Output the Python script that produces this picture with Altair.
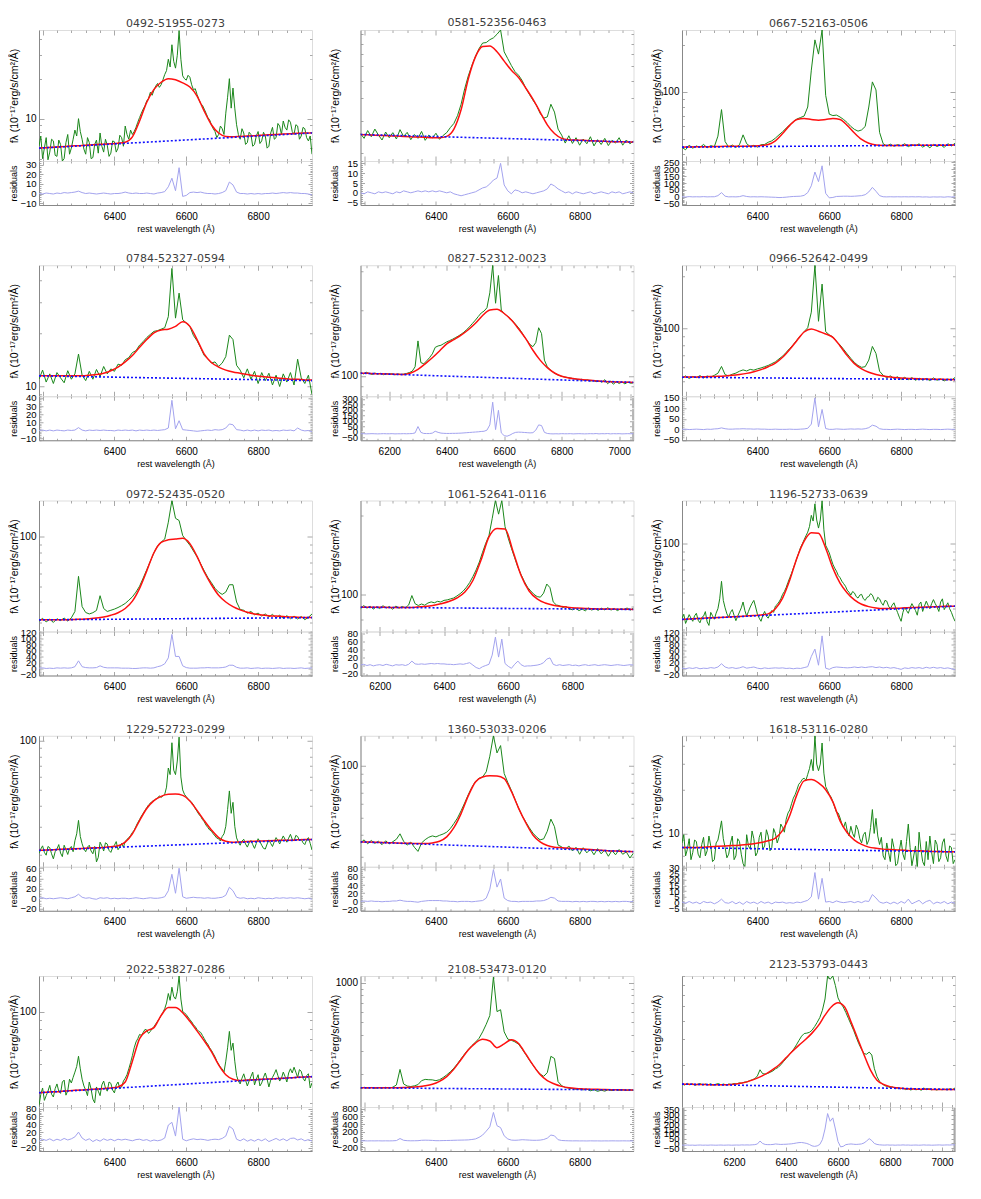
import sys
import altair as alt
import pandas as pd

# ---------------- sampling grids (wavelength, Angstrom) ----------------
GRID_A = list(range(6190, 6951, 10))
GRID_A5 = list(range(6190, 6951, 5))
GRID_B = list(range(6100, 7051, 10))
GRID_C = list(range(6140, 6991, 10))
GRID_D = list(range(6000, 7051, 10))
FGRID_A = list(range(6190, 6951, 20))
FGRID_B = list(range(6100, 7051, 25))
FGRID_C = list(range(6140, 6991, 25))
FGRID_D = list(range(6000, 7051, 25))

XTICKS_A = [6400, 6600, 6800]
XTICKS_B = [6200, 6400, 6600, 6800, 7000]
XTICKS_C = [6200, 6400, 6600, 6800]
XTICKS_D = [6200, 6400, 6600, 6800, 7000]

# ---------------- 0492-51955-0273 (spectrum on 5 A grid) ----------------
S_0492 = [6.2, 7.4, 5.0, 6.0, 7.2, 4.9, 5.6, 7.0, 6.8, 5.3,
          5.2, 6.9, 6.4, 4.8, 5.0, 6.6, 7.6, 5.4, 6.0, 7.0,
          8.2, 7.4, 10.0, 8.0, 7.0, 5.9, 5.4, 7.2, 6.6, 5.0,
          5.1, 6.4, 6.9, 5.5, 7.8, 6.2, 5.6, 7.0, 6.3, 5.2,
          5.5, 6.8, 6.7, 5.6, 6.0, 7.5, 7.2, 6.2, 8.8, 7.6,
          7.0, 8.2, 7.6, 8.0, 8.6, 9.4, 10.2, 11.0, 11.8, 12.5,
          13.6, 14.2, 15.8, 15.0, 16.4, 17.6, 18.4, 17.2, 18.0, 19.6,
          21.5, 23.0, 28.0, 24.5, 36.0, 27.0, 24.0, 30.0, 46.0, 28.0,
          21.0, 20.0, 19.5, 21.2, 20.5, 18.0, 16.5, 16.8, 15.2, 14.0,
          13.0, 12.6, 11.8, 11.0, 10.2, 9.8, 9.0, 8.4, 8.0, 7.2,
          7.6, 8.8, 8.4, 7.6, 11.0, 14.5, 20.0, 12.0, 17.0, 12.0,
          9.0, 7.6, 7.0, 8.4, 7.8, 6.4, 6.6, 7.9, 7.6, 6.2,
          6.4, 7.4, 8.0, 6.5, 6.8, 7.9, 7.4, 6.0, 6.2, 7.8,
          8.6, 7.0, 7.2, 9.2, 8.8, 7.6, 9.6, 8.6, 8.2, 9.8,
          9.4, 8.0, 7.6, 9.0, 8.8, 7.0, 7.4, 8.6, 8.4, 7.2,
          6.8, 7.4, 5.4]
F_0492 = [6.0, 6.05, 6.1, 6.14, 6.19, 6.24, 6.28, 6.33, 6.38, 6.43,
          6.47, 6.53, 6.65, 7.3, 9.6, 13.3, 16.6, 18.8, 20.0, 19.6,
          18.6, 17.3, 14.8, 11.4, 9.0, 7.8, 7.35, 7.3, 7.35, 7.4,
          7.45, 7.5, 7.55, 7.6, 7.65, 7.7, 7.75, 7.8, 7.8]
R_0492 = [0, -0.5, 0.5, 0, -0.5, 0.5, 0, 1, 0.5, 1,
          1.5, 2.5, 1, 0, 0.5, 0, -0.5, 0, 0.5, 0,
          -0.5, 0, 0, 0.5, 1.5, 0.5, 0, 0.5, 0, 0,
          0.5, 0, -0.5, 0.5, 1, 2, 7, 16, 3, 27,
          -3, -2, 1, 1.5, 1, 1.5, 0.5, 0, 0, -0.5,
          0, 1, 3, 12, 9, 1.5, 0, 0, -0.5, 0,
          -0.5, 0, -0.5, 0, 0, 0.5, 0, 0.5, 1, 0.5,
          1, 0.5, 0.5, 0, 0, -0.5, -1.5]

# ---------------- 0581-52356-0463 ----------------
S_0581 = [25.5, 24.0, 26.5, 24.5, 27.0, 25.0, 23.5, 26.0, 24.2, 25.8,
          23.8, 26.8, 24.6, 25.9, 23.6, 25.2, 24.0, 26.2, 23.4, 25.0,
          24.1, 25.6, 23.7, 24.9, 25.8, 27.5, 29.0, 32.0, 37.0, 45.0,
          53.0, 60.5, 68.0, 75.0, 80.5, 81.0, 84.0, 86.0, 90.0, 95.0,
          72.0, 66.0, 60.5, 56.0, 53.5, 50.0, 45.5, 42.0, 39.0, 36.5,
          33.0, 31.0, 31.5, 37.0, 33.5, 27.0, 25.0, 22.6, 24.8, 22.5,
          24.2, 22.0, 23.8, 22.4, 24.5, 21.8, 23.6, 22.2, 24.0, 21.9,
          23.4, 22.6, 24.2, 22.0, 23.5, 22.4, 23.2]
F_0581 = [25.2, 25.1, 25.0, 24.9, 24.8, 24.7, 24.6, 24.5, 24.4, 24.3,
          24.2, 24.2, 24.6, 27.0, 34.5, 51.0, 67.5, 77.0, 77.5, 72.0,
          64.0, 57.0, 52.0, 45.5, 39.5, 33.5, 28.5, 25.5, 24.0, 23.6,
          23.5, 23.4, 23.3, 23.2, 23.1, 23.0, 23.0, 22.9, 22.9]
R_0581 = [0, -0.5, 0.5, 0, -0.5, 0.5, 0, 0.5, 0, -0.5,
          0.5, 0, 1, 0.5, 0, 0.5, 1, 0.5, 1, 0.5,
          1, 0.5, 1, 0.5, 0, 0.5, -0.5, -1, -1.5, -1,
          -0.5, 0, 0.5, 1.5, 2.5, 3, 4.5, 6.5, 7.5, 15,
          4, 1, -0.5, 1.5, 1, 0, 0.5, 0, -0.5, 0,
          0.5, 1, 2, 4.5, 3.5, 2, 1, 0, 0.5, -0.5,
          0.5, 0, -0.5, 0, 0.5, -0.5, 0, 0.5, 0, -0.5,
          0.5, 0, 0.5, -0.5, 0, 0.5, 0]

# ---------------- 0667-52163-0506 ----------------
S_0667 = [44.0, 42.5, 45.5, 43.5, 45.0, 44.0, 46.0, 43.8, 45.2, 44.5,
          52.0, 77.0, 48.0, 44.2, 45.6, 44.0, 45.8, 53.0, 46.5, 44.6,
          45.4, 44.2, 45.8, 46.0, 47.5, 48.5, 50.5, 53.0, 55.5, 58.5,
          61.5, 64.5, 67.0, 68.5, 70.0, 80.0, 138.0, 216.0, 175.0, 250.0,
          95.0, 72.0, 70.5, 71.0, 69.0, 66.5, 63.5, 60.0, 57.5, 56.0,
          57.0, 60.0, 80.0, 116.0, 103.0, 55.0, 46.5, 45.0, 46.2, 44.8,
          45.9, 45.0, 46.5, 44.5, 45.8, 45.2, 46.4, 44.2, 45.6, 43.8,
          46.0, 44.6, 45.8, 44.0, 46.5, 45.0, 46.8]
F_0667 = [44.2, 44.3, 44.4, 44.5, 44.5, 44.6, 44.7, 44.7, 44.8, 44.8,
          44.9, 45.2, 46.0, 48.5, 54.0, 61.0, 66.5, 67.5, 66.5, 65.8,
          66.5, 67.5, 66.5, 61.0, 54.5, 49.5, 46.8, 45.6, 45.3, 45.3,
          45.3, 45.4, 45.4, 45.4, 45.5, 45.5, 45.5, 45.5, 45.6]
R_0667 = [0, -2, 1, -1, 0, -1, 1, -1, 0, 0,
          8, 30, 4, -1, 0, -1, 1, 8, 2, -1,
          0, -1, 0, -1, -2, -3, -4, -6, -5, -3,
          0, 2, 3, 4, 10, 30, 80, 180, 110, 225,
          25, -8, -5, 2, 3, 4, 4, 3, 4, 6,
          8, 15, 35, 68, 40, 8, 0, -1, 0, -1,
          0, -1, 0, -1, 0, -1, 0, -2, -1, -3,
          -1, -2, -1, -3, 0, -2, 0]

# ---------------- 0784-52327-0594 ----------------
S_0784 = [11.0, 12.4, 10.6, 11.8, 10.4, 12.0, 11.2, 10.5, 12.3, 11.0,
          11.8, 15.3, 11.6, 10.8, 12.2, 11.0, 12.5, 11.4, 13.0, 11.8,
          12.6, 12.2, 13.4, 13.2, 14.2, 14.6, 15.6, 16.0, 17.2, 18.0,
          19.0, 19.8, 20.6, 20.8, 21.2, 21.6, 25.0, 47.0, 24.5, 34.0,
          24.0, 23.0, 22.0, 19.5, 18.2, 16.6, 15.0, 14.4, 13.6, 13.8,
          13.0, 13.6, 14.8, 19.6, 18.5, 13.2, 12.4, 11.2, 12.6, 11.0,
          12.2, 10.4, 12.0, 10.8, 11.9, 10.2, 11.6, 10.0, 11.8, 10.6,
          12.0, 10.2, 14.3, 11.2, 10.4, 11.6, 9.0]
F_0784 = [11.5, 11.5, 11.5, 11.5, 11.5, 11.5, 11.5, 11.6, 11.7, 11.9,
          12.3, 12.9, 13.8, 15.0, 16.7, 18.5, 20.2, 21.0, 21.2, 22.0,
          23.4, 22.0, 18.5, 15.3, 13.7, 12.9, 12.4, 12.1, 11.9, 11.7,
          11.5, 11.4, 11.3, 11.2, 11.1, 11.0, 11.0, 10.9, 10.9]
R_0784 = [0, 0.5, -0.5, 0.5, -0.5, 0.5, 0, -0.5, 0.5, 0,
          0.5, 3.5, 0.5, -0.5, 0.5, 0, 0.5, 0, 0.5, 0,
          0, -0.5, 0.5, 0, 0.5, 0, 0.5, -0.5, 0.5, 0,
          0.5, 0, 0.5, 0, 0.5, 1, 3, 37, 2, 12,
          1, 0.5, 0, -0.5, -1, -0.5, 0, 0.5, 0, 1,
          0.5, 1, 3, 8, 7, 1, 0.5, -0.5, 0.5, -0.5,
          0.5, -0.5, 0.5, 0, 0.5, -0.5, 0, -0.5, 0.5, 0,
          0.5, -0.5, 3, 0.5, -0.5, 0, -1.5]

# ---------------- 0827-52312-0023 (grid B) ----------------
S_0827 = [103.5, 102.0, 103.8, 102.5, 101.5, 103.0, 101.8, 102.6, 101.2, 102.4,
          101.6, 102.2, 101.0, 102.0, 101.4, 101.8, 102.5, 103.5, 105.0, 110.0,
          144.5, 115.0, 113.5, 117.0, 121.0, 126.0, 135.0, 137.0, 138.0, 140.5,
          143.0, 145.0, 147.0, 149.5, 152.0, 155.0, 158.5, 163.0, 168.0, 174.0,
          180.0, 187.0, 194.0, 198.0, 205.0, 240.0, 321.0, 215.0, 288.0, 200.0,
          193.0, 188.0, 183.5, 178.0, 172.0, 166.0, 159.0, 151.0, 145.0, 139.0,
          136.0, 142.0, 166.0, 156.0, 118.0, 110.0, 106.5, 104.0, 102.0, 100.5,
          99.5, 98.8, 98.2, 97.8, 97.0, 96.6, 95.8, 96.4, 95.2, 95.8,
          94.6, 95.2, 94.0, 94.8, 93.4, 96.0, 92.0, 94.5, 91.5, 94.0,
          92.2, 93.8, 91.8, 93.6, 92.4, 93.0]
F_0827 = [102.8, 102.6, 102.3, 102.1, 101.8, 101.6, 101.5, 103.0, 107.0, 113.5,
          121.0, 130.0, 140.0, 146.5, 153.5, 162.5, 174.0, 189.0, 200.0, 202.0,
          193.0, 180.0, 164.0, 148.0, 131.0, 118.0, 109.0, 103.0, 99.5, 97.8,
          96.8, 96.0, 95.3, 94.7, 94.2, 93.8, 93.6, 93.4, 93.3]
R_0827 = [-18, -17, -19, -18, -17, -18, -19, -18, -17, -18,
          -18, -17, -19, -18, -18, -17, -18, -17, -16, -10,
          48, -5, -15, -16, -16, -12, 5, -5, -12, -14,
          -15, -15, -14, -14, -13, -12, -10, -8, -6, -4,
          -2, 0, 3, 5, 15, 63, 270, 20, 196, -10,
          -35, -40, -30, -15, -5, -3, -4, -6, -8, -10,
          -8, 15, 63, 57, -5, -15, -18, -19, -18, -19,
          -17, -18, -18, -17, -19, -18, -17, -18, -19, -18,
          -17, -18, -16, -19, -17, -18, -16, -19, -17, -18,
          -17, -19, -18, -17, -18, -17]

# ---------------- 0966-52642-0499 ----------------
S_0966 = [52.0, 53.6, 51.8, 53.2, 52.4, 53.8, 52.2, 53.5, 52.8, 54.0,
          55.5, 60.7, 54.5, 53.6, 54.8, 55.6, 57.0, 58.0, 57.2, 58.4,
          57.8, 58.8, 59.5, 60.5, 61.5, 63.0, 64.5, 67.0, 69.5, 73.0,
          77.0, 81.0, 86.0, 91.0, 96.0, 101.0, 124.0, 230.0, 110.0, 179.5,
          96.0, 92.0, 89.5, 84.5, 80.5, 76.0, 71.5, 67.5, 64.0, 61.5,
          60.0, 60.5, 66.0, 79.0, 72.0, 57.0, 54.0, 52.4, 53.6, 51.8,
          53.0, 51.2, 52.6, 51.0, 52.4, 50.6, 52.0, 50.8, 51.8, 50.4,
          52.2, 50.6, 51.6, 50.2, 51.4, 50.6, 52.5]
F_0966 = [52.7, 52.8, 52.9, 53.0, 53.1, 53.3, 53.6, 54.0, 54.6, 55.4,
          56.6, 58.2, 60.5, 63.5, 68.5, 76.0, 85.5, 95.5, 99.5, 96.5,
          93.0, 89.0, 79.5, 70.0, 63.0, 58.8, 56.2, 54.6, 53.5, 52.8,
          52.3, 52.0, 51.8, 51.6, 51.4, 51.3, 51.2, 51.1, 51.0]
R_0966 = [0, 1, -1, 0, 1, 0, -1, 1, 0, 2,
          3, 7, 3, 1, 1, 2, 2, 3, 2, 2,
          1, 2, 1, 1, 0, 0, 1, 0, 0, 0,
          1, 0, 0, 1, 2, 5, 25, 150, 12, 95,
          4, 0, 0, 2, 1, 0, 1, 2, 1, 2,
          1, 3, 8, 20, 15, 3, 0, 0, -1, 0,
          1, 0, -1, 0, 0, -1, 0, 1, 0, -1,
          0, 0, -1, 0, 1, 0, 0]

# ---------------- 0972-52435-0520 ----------------
S_0972 = [30.5, 31.8, 30.2, 31.4, 30.0, 31.6, 30.8, 31.9, 30.6, 32.0,
          35.0, 57.4, 37.5, 34.5, 33.8, 34.4, 35.5, 43.7, 36.5, 35.0,
          35.6, 36.2, 37.0, 38.0, 39.2, 41.0, 43.0, 46.0, 50.0, 56.0,
          63.0, 71.0, 80.0, 88.0, 93.0, 97.0, 123.0, 167.0, 130.0, 126.0,
          102.0, 95.0, 89.0, 82.0, 75.5, 68.5, 62.0, 56.5, 52.5, 48.5,
          46.0, 44.5, 46.0, 51.0, 51.0, 40.0, 36.0, 35.6, 34.2, 35.0,
          33.4, 34.2, 32.8, 33.8, 32.4, 33.6, 32.0, 33.2, 31.8, 33.0,
          31.6, 32.8, 31.5, 32.6, 31.2, 32.2, 33.8]
F_0972 = [31.1, 31.1, 31.1, 31.2, 31.2, 31.3, 31.4, 31.6, 31.9, 32.4,
          33.2, 34.4, 36.5, 40.5, 48.5, 62.0, 80.0, 92.5, 96.0, 97.0,
          98.0, 91.0, 76.0, 61.0, 51.0, 44.0, 40.0, 37.5, 35.8, 34.6,
          33.8, 33.3, 33.0, 32.8, 32.6, 32.4, 32.3, 32.2, 32.1]
R_0972 = [0, 1, -1, 0, -1, 1, 0, 1, 0, 1,
          5, 25, 5, 2, 1, 1, 2, 8, 3, 1,
          1, 1, 1, 0, 0, 0, -1, -1, 0, 1,
          1, 0, 1, 5, 8, 15, 35, 115, 40, 40,
          8, 2, 0, 0, 0, 1, 1, 2, 1, 1,
          1, 2, 4, 10, 10, 3, 0, 0, 1, -1,
          0, 1, -1, 0, 0, -1, 0, 1, -1, 0,
          0, -1, 0, 1, -1, 0, 1]

# ---------------- 1061-52641-0116 (grid C) ----------------
S_1061 = [88.0, 90.5, 88.5, 90.0, 87.8, 89.6, 88.2, 90.4, 88.6, 89.8,
          87.6, 90.2, 88.4, 89.8, 88.8, 91.0, 98.9, 92.0, 90.6, 91.8,
          90.8, 92.6, 93.5, 92.8, 94.0, 93.4, 94.8, 95.2, 96.0, 96.8,
          98.5, 100.5, 103.0, 106.5, 111.0, 117.0, 124.0, 133.0, 145.0, 157.0,
          168.0, 195.0, 229.0, 203.0, 229.0, 182.0, 164.0, 150.0, 138.0, 127.0,
          119.0, 112.0, 106.5, 103.0, 100.0, 98.0, 97.5, 101.0, 109.5, 106.0,
          93.5, 91.0, 90.4, 89.0, 89.8, 88.0, 87.2, 88.4, 86.6, 87.8,
          86.4, 88.6, 87.0, 88.2, 86.8, 88.4, 87.2, 88.8, 87.0, 88.2,
          86.6, 88.0, 87.4, 88.6, 87.0, 88.4]
F_1061 = [89.2, 89.2, 89.1, 89.1, 89.0, 89.0, 89.0, 89.3, 89.8, 90.6,
          92.0, 93.8, 96.8, 102.0, 113.0, 135.0, 166.0, 179.0, 178.0, 146.0,
          118.0, 103.0, 96.0, 92.6, 90.8, 89.8, 89.0, 88.6, 88.3, 88.0,
          87.9, 87.8, 87.7, 87.6, 87.5]
R_1061 = [0, 2, -1, 1, -2, 0, 1, -1, 2, 0,
          -2, 1, 0, 1, -1, 2, 10, 3, 2, 3,
          2, 3, 4, 3, 4, 3, 3, 2, 2, 1,
          2, 3, 2, 4, 6, 0, -6, -9, -4, -1,
          2, 25, 70, 20, 65, 4, -3, -8, 2, 10,
          1, -3, -2, -2, -1, 0, 2, 6, 15, 18,
          2, -1, 1, -1, 0, 1, -1, 0, -2, 0,
          1, -1, 0, 1, -1, 0, 1, 0, -1, 0,
          1, 0, -1, 0, 1, 0]

# ---------------- 1196-52733-0639 (spectrum on 5 A grid) ----------------
S_1196 = [35.0, 37.0, 32.5, 34.6, 36.8, 35.0, 33.5, 36.2, 37.5, 34.0,
          32.8, 35.4, 36.0, 38.4, 33.2, 31.6, 38.0, 36.2, 34.5, 37.6,
          40.0, 46.0, 58.9, 45.0, 40.5, 37.2, 35.5, 38.0, 39.5, 36.4,
          33.8, 36.0, 38.2, 40.5, 44.0, 39.0, 36.0, 38.5, 41.0, 43.2,
          45.0, 41.0, 37.0, 35.0, 33.5, 36.4, 38.5, 36.0, 35.0, 37.2,
          39.0, 38.0, 41.5, 42.5, 44.0, 46.0, 49.0, 51.0, 54.0, 58.0,
          62.0, 66.0, 71.0, 76.0, 82.0, 88.0, 95.0, 100.0, 106.0, 112.0,
          118.0, 128.0, 149.6, 138.0, 176.0, 140.0, 125.0, 140.0, 184.0, 122.0,
          98.0, 93.0, 88.0, 81.0, 75.0, 71.0, 68.0, 64.0, 62.0, 59.0,
          57.0, 55.0, 52.0, 50.5, 48.5, 51.0, 50.0, 47.5, 46.5, 48.5,
          49.0, 46.0, 45.0, 47.0, 47.5, 49.5, 48.5, 45.5, 44.0, 47.0,
          46.0, 43.5, 42.0, 45.0, 44.5, 41.5, 40.0, 42.0, 43.5, 40.5,
          38.0, 35.5, 33.5, 38.0, 41.0, 39.0, 37.5, 40.5, 43.0, 41.0,
          39.0, 36.5, 42.5, 44.0, 38.5, 41.5, 44.5, 42.0, 40.0, 43.0,
          45.5, 43.0, 41.0, 38.5, 44.0, 46.0, 39.5, 41.5, 43.5, 40.0,
          38.0, 35.5, 33.5]
F_1196 = [34.4, 34.6, 34.8, 35.0, 35.2, 35.3, 35.5, 35.7, 35.9, 36.1,
          36.3, 36.6, 37.2, 40.0, 46.5, 60.0, 82.0, 104.0, 117.0, 116.0,
          94.0, 71.0, 57.5, 50.0, 45.3, 42.6, 41.2, 40.4, 40.1, 40.2,
          40.3, 40.5, 40.7, 40.8, 41.0, 41.1, 41.3, 41.4, 41.5]
R_1196 = [0, -2, 1, -1, 2, -2, 0, -1, 2, 0,
          4, 15, 4, 0, 2, -1, 1, 5, 0, 2,
          4, 0, -2, 1, -1, 0, 1, 0, 1, -1,
          0, -2, 0, -1, 2, 5, 40, 65, 10, 110,
          0, -4, 2, 4, 3, 2, 1, 2, 4, 2,
          4, 2, 4, 5, 2, 4, 1, 3, 0, 2,
          -1, -4, 1, -1, 2, 0, 2, -1, 3, 0,
          3, 0, 2, -1, 1, -2, -5]

# ---------------- 1229-52723-0299 (spectrum on 5 A grid) ----------------
S_1229 = [20.5, 21.8, 22.8, 20.8, 20.0, 22.6, 22.2, 20.4, 19.0, 21.0,
          21.8, 23.2, 20.6, 19.6, 23.0, 21.6, 20.2, 22.0, 22.6, 21.0,
          24.5, 27.0, 32.6, 26.0, 23.5, 21.8, 21.0, 22.4, 23.0, 21.2,
          20.4, 22.6, 18.2, 19.4, 24.0, 22.8, 21.2, 23.8, 23.4, 21.4,
          20.8, 22.2, 23.0, 24.2, 21.6, 22.4, 23.6, 22.4, 24.2, 25.0,
          25.5, 26.4, 27.5, 28.4, 30.0, 31.6, 33.0, 34.6, 36.0, 37.5,
          39.0, 40.5, 41.5, 42.6, 43.0, 44.0, 44.5, 46.0, 45.0, 46.0,
          47.0, 52.0, 68.0, 62.0, 97.0, 66.0, 62.0, 75.0, 105.0, 60.0,
          50.0, 47.0, 45.5, 44.0, 43.0, 42.0, 40.5, 38.5, 37.0, 35.5,
          34.5, 33.0, 32.0, 30.5, 29.5, 28.5, 28.0, 27.0, 26.2, 25.4,
          25.2, 24.4, 26.0, 27.0, 30.0, 38.0, 49.3, 36.0, 42.0, 30.0,
          25.5, 24.0, 23.0, 24.4, 25.0, 23.4, 22.4, 23.8, 24.6, 23.2,
          22.0, 23.6, 25.2, 24.2, 23.0, 22.0, 21.8, 23.4, 24.8, 23.6,
          22.6, 24.2, 25.6, 24.6, 23.4, 24.8, 26.2, 25.0, 24.0, 25.4,
          26.8, 25.0, 24.4, 26.4, 26.0, 24.6, 25.0, 23.8, 23.2, 24.8,
          25.6, 23.6, 21.5]
F_1229 = [21.4, 21.5, 21.6, 21.7, 21.8, 21.9, 22.0, 22.1, 22.2, 22.3,
          22.5, 22.8, 24.0, 27.0, 32.5, 38.5, 43.0, 45.7, 47.0, 47.2,
          46.3, 42.8, 37.5, 32.5, 28.5, 25.6, 24.3, 24.0, 24.1, 24.2,
          24.3, 24.4, 24.5, 24.6, 24.7, 24.7, 24.8, 24.9, 24.9]
R_1229 = [0, 1, -1, 0, -1, 0, 1, 0, -1, 1,
          3, 8, 2, 0, 1, -1, -2, 1, 0, 1,
          -1, 0, -1, 0, 0, -1, 0, 1, 0, -1,
          0, 1, 0, 0, 1, 3, 15, 48, 10, 60,
          3, 0, 1, 2, 1, 1, 0, 1, 0, 0,
          1, 2, 6, 22, 15, 2, 0, 1, -1, 0,
          -1, 1, 0, -1, 0, -1, 1, 0, 1, 0,
          1, 0, 1, 0, -1, 0, -2]

# ---------------- 1360-53033-0206 ----------------
S_1360 = [36.0, 37.5, 35.6, 37.2, 35.8, 36.8, 35.2, 37.0, 35.6, 36.6,
          37.8, 40.6, 36.8, 35.0, 36.4, 34.0, 32.2, 36.0, 37.6, 38.8,
          39.5, 39.0, 39.8, 40.5, 41.5, 43.5, 46.5, 50.0, 55.0, 61.0,
          68.0, 75.0, 81.0, 84.5, 86.0, 92.0, 113.0, 148.0, 118.0, 130.0,
          90.0, 80.0, 72.0, 64.0, 57.0, 51.5, 47.5, 44.0, 41.0, 39.0,
          37.5, 38.0, 42.0, 49.3, 44.6, 35.0, 34.2, 33.0, 34.6, 32.4,
          34.0, 31.0, 33.8, 31.6, 33.2, 30.8, 33.4, 31.2, 32.8, 30.2,
          32.6, 30.8, 33.0, 31.0, 32.0, 29.5, 31.5]
F_1360 = [36.5, 36.4, 36.3, 36.2, 36.1, 36.0, 35.9, 35.8, 35.7, 35.7,
          36.0, 36.8, 39.0, 44.0, 53.0, 67.0, 80.5, 86.0, 87.2, 87.0,
          84.0, 71.0, 57.0, 47.0, 40.0, 36.5, 34.8, 34.0, 33.8, 33.6,
          33.4, 33.2, 33.0, 32.8, 32.6, 32.4, 32.3, 32.2, 32.1]
R_1360 = [0, 1, 0, 1, 0, 0, -1, 0, 0, 1,
          1, 3, 1, 0, 0, -1, -2, 0, 1, 2,
          2, 2, 2, 1, 1, 0, 0, -1, 0, 0,
          0, -1, 0, 1, 2, 8, 30, 78, 35, 55,
          8, 2, 0, 0, -1, 0, 0, 0, 0, 1,
          1, 2, 5, 10, 8, 1, 0, 0, 0, -1,
          0, -1, 0, -1, 0, 0, -1, 0, -1, 0,
          -1, 0, -1, 0, 0, -1, 0]

# ---------------- 1618-53116-0280 (spectrum on 5 A grid) ----------------
S_1618 = [8.6, 9.8, 7.0, 7.8, 9.2, 6.6, 7.4, 9.0, 8.8, 7.2,
          6.8, 8.4, 9.4, 7.0, 7.6, 9.6, 8.2, 6.4, 6.6, 8.6,
          9.0, 10.4, 12.2, 9.2, 8.0, 6.8, 7.2, 8.6, 9.6, 6.6,
          7.0, 9.2, 8.8, 7.2, 6.2, 5.9, 9.8, 8.2, 7.8, 10.4,
          9.2, 7.0, 7.4, 9.4, 10.2, 7.8, 8.2, 10.6, 9.6, 7.6,
          8.0, 10.8, 10.0, 8.6, 9.4, 11.6, 11.0, 10.2, 12.5, 13.8,
          14.5, 16.0, 17.5, 18.5, 20.0, 21.8, 22.5, 23.6, 24.0, 23.2,
          25.5, 28.0, 32.3, 27.0, 47.0, 30.0, 27.0, 30.0, 41.9, 26.0,
          21.0, 19.8, 18.5, 17.8, 16.5, 15.2, 14.0, 13.8, 12.8, 11.6,
          11.0, 12.0, 10.4, 9.6, 11.2, 10.0, 9.4, 11.4, 10.6, 9.2,
          8.6, 9.8, 10.2, 8.4, 9.0, 11.0, 14.6, 10.0, 12.7, 9.6,
          8.4, 9.4, 7.0, 6.6, 8.6, 7.4, 6.4, 9.2, 8.0, 6.0,
          6.2, 7.6, 9.0, 7.2, 6.6, 8.8, 11.6, 8.0, 6.0, 7.0,
          8.2, 5.7, 10.2, 7.8, 6.4, 6.0, 8.8, 6.6, 9.6, 7.4,
          6.2, 9.0, 8.4, 6.4, 6.8, 8.6, 9.2, 7.0, 6.4, 8.2,
          8.0, 6.2, 6.6]
F_1618 = [8.0, 8.0, 8.0, 8.05, 8.1, 8.15, 8.2, 8.25, 8.3, 8.4,
          8.5, 8.65, 8.9, 9.3, 10.5, 13.3, 18.5, 23.0, 23.5, 22.3,
          20.0, 16.5, 12.2, 10.1, 9.0, 8.4, 8.05, 7.9, 7.8, 7.75,
          7.7, 7.65, 7.6, 7.6, 7.55, 7.5, 7.5, 7.48, 7.47]
R_1618 = [0.5, -0.5, 1, -0.5, 0.5, -1, 1, 0, 0.5, -1,
          0.5, 3, 0, -0.5, 1, -1, 0.5, -1.5, 1, -0.5,
          0.5, -1, 1, -0.5, 0.5, -1, 0.5, 0, 0.5, -0.5,
          0, -0.5, 0.5, 0, 1, 2, 5, 26, 3, 21,
          0.5, 1, 0, 1.5, 0.5, 0, 0.5, 1, 0, 1,
          0, 1.5, 1, 7, 4, 0.5, -0.5, 0.5, -1, 0.5,
          -1, 1, -0.5, 3, -1, 0.5, 2, -1, 1, 2,
          -1, 0.5, -0.5, 1, -1, 0.5, -0.5]

# ---------------- 2022-53827-0286 (spectrum on 5 A grid) ----------------
S_2022 = [29.0, 33.5, 36.5, 31.0, 33.0, 35.0, 37.8, 33.6, 32.4, 36.2,
          38.5, 35.0, 34.0, 39.5, 40.5, 33.2, 35.2, 41.0, 39.0, 42.0,
          45.0, 48.5, 55.5, 47.0, 41.0, 37.5, 35.5, 33.0, 39.5, 36.0,
          31.5, 30.0, 37.0, 35.0, 33.0, 38.0, 40.0, 36.5, 35.0, 39.5,
          38.8, 35.5, 34.2, 38.0, 39.5, 36.2, 37.0, 40.0, 41.5, 43.5,
          47.0, 51.0, 56.0, 62.0, 67.0, 70.0, 74.0, 73.0, 76.0, 79.0,
          78.5, 75.0, 77.0, 80.0, 82.0, 85.0, 88.0, 91.0, 95.0, 99.0,
          104.0, 112.0, 127.0, 116.0, 138.0, 122.0, 118.0, 130.0, 160.0, 118.0,
          100.0, 98.5, 96.0, 93.0, 90.0, 87.5, 84.0, 82.0, 79.0, 77.0,
          76.0, 73.0, 70.0, 67.0, 65.0, 62.0, 60.0, 57.5, 55.0, 52.0,
          50.0, 48.0, 47.0, 45.0, 52.0, 62.0, 77.0, 60.0, 66.0, 52.0,
          43.0, 40.0, 38.5, 41.5, 44.0, 40.5, 37.5, 40.0, 42.5, 45.0,
          38.0, 41.0, 43.5, 37.5, 39.0, 42.0, 44.5, 41.0, 37.0, 40.5,
          42.0, 44.0, 46.5, 43.0, 40.0, 41.5, 45.0, 42.5, 39.5, 44.5,
          47.0, 44.5, 48.0, 45.0, 42.0, 46.5, 45.5, 41.5, 40.0, 43.0,
          44.0, 36.5, 39.0]
F_2022 = [34.3, 34.5, 34.7, 34.9, 35.2, 35.4, 35.6, 35.8, 36.0, 36.2,
          36.5, 37.0, 39.5, 52.0, 70.0, 77.5, 81.0, 95.0, 105.5, 105.5,
          98.5, 88.0, 77.5, 68.0, 59.0, 49.5, 43.5, 41.0, 40.3, 40.5,
          40.7, 40.9, 41.1, 41.3, 41.5, 41.8, 42.0, 42.2, 42.4]
R_2022 = [-3, 2, -1, 3, -2, 2, -1, 4, 0, 3,
          8, 20, 5, -1, 3, -4, 1, -3, 3, -1,
          2, -2, 2, 0, 2, 0, -2, 1, 2, -1,
          1, -3, 0, -2, 0, 5, 38, 45, 10, 84,
          2, -2, 1, 3, 1, 2, 1, -1, 1, 2,
          1, 4, 10, 35, 28, 2, -2, 3, -3, 1,
          -3, 2, -2, 3, -4, 0, 4, -1, 3, -2,
          4, 5, 0, 3, -2, 1, -3]

# ---------------- 2108-53473-0120 ----------------
S_2108 = [155.0, 158.5, 156.0, 158.0, 155.5, 157.5, 156.2, 158.2, 156.0, 158.8,
          165.0, 217.0, 168.0, 162.0, 160.5, 162.5, 166.0, 178.0, 182.0, 181.0,
          180.5, 178.0, 181.0, 188.0, 197.0, 208.0, 222.0, 240.0, 262.0, 285.0,
          308.0, 330.0, 350.0, 375.0, 420.0, 480.0, 560.0, 1100.0, 600.0, 620.0,
          420.0, 370.0, 362.0, 352.0, 338.0, 310.0, 282.0, 256.0, 234.0, 215.0,
          200.0, 192.0, 205.0, 273.0, 263.0, 175.0, 163.0, 158.0, 156.0, 154.5,
          153.0, 154.0, 151.5, 153.5, 149.0, 152.0, 147.5, 150.5, 148.0, 151.8,
          149.5, 152.0, 150.0, 151.6, 149.8, 151.4, 150.2]
F_2108 = [157.0, 157.0, 157.0, 157.0, 157.0, 157.2, 157.5, 158.5, 160.0, 162.5,
          167.0, 176.0, 191.0, 218.0, 258.0, 305.0, 345.0, 368.0, 358.0, 318.0,
          340.0, 365.0, 342.0, 285.0, 235.0, 198.0, 178.0, 168.0, 161.0, 157.0,
          155.0, 154.0, 153.3, 152.8, 152.4, 152.0, 151.6, 151.3, 151.0]
R_2108 = [-30, -28, -31, -29, -30, -28, -31, -29, -30, -28,
          -22, 30, -15, -25, -28, -27, -25, -15, -12, -14,
          -18, -25, -25, -22, -20, -18, -15, -12, -10, -8,
          -5, 5, 20, 60, 120, 220, 330, 700, 360, 310,
          100, 20, -10, -15, -10, 0, -5, -10, -15, -15,
          -10, 5, 40, 120, 100, 0, -20, -25, -28, -30,
          -29, -31, -30, -32, -29, -31, -30, -32, -30, -31,
          -29, -30, -31, -29, -30, -31, -30]

# ---------------- 2123-53793-0443 (grid D) ----------------
S_2123 = [150.0, 147.5, 151.5, 148.0, 150.5, 147.0, 149.5, 151.0, 147.5, 150.0,
          148.0, 150.5, 147.0, 149.5, 151.0, 148.0, 150.0, 147.5, 150.0, 149.0,
          151.0, 150.0, 152.5, 152.0, 154.5, 155.0, 158.0, 160.0, 163.0, 170.0,
          187.0, 176.0, 175.0, 177.0, 180.0, 184.0, 190.0, 194.0, 202.0, 212.0,
          222.0, 233.0, 245.0, 258.0, 275.0, 295.0, 315.0, 328.0, 330.0, 334.0,
          345.0, 365.0, 390.0, 420.0, 470.0, 560.0, 800.0, 760.0, 800.0, 690.0,
          570.0, 525.0, 495.0, 455.0, 415.0, 378.0, 345.0, 310.0, 280.0, 258.0,
          240.0, 238.0, 246.0, 235.0, 190.0, 168.0, 156.0, 150.0, 146.0, 144.5,
          142.0, 143.5, 140.0, 141.5, 139.0, 141.0, 137.5, 140.0, 136.5, 139.5,
          137.0, 139.0, 136.0, 141.0, 137.5, 139.5, 137.0, 138.5, 136.5, 139.0,
          137.0, 138.5, 137.0, 139.5, 137.5, 141.0]
F_2123 = [149.7, 149.4, 149.1, 148.8, 148.5, 148.3, 148.2, 148.5, 149.5, 151.5,
          155.0, 160.5, 167.5, 176.0, 188.0, 203.0, 225.0, 249.0, 274.0, 299.0,
          330.0, 372.0, 436.0, 497.0, 528.0, 496.0, 393.0, 305.0, 236.0, 186.0,
          159.0, 149.0, 144.0, 141.5, 140.0, 139.0, 138.5, 138.2, 138.0, 137.9,
          137.8, 137.7, 137.7]
R_2123 = [-17, -18, -16, -18, -17, -19, -17, -16, -18, -17,
          -18, -16, -17, -18, -17, -16, -18, -17, -16, -18,
          -17, -16, -17, -15, -16, -15, -16, -14, -12, -5,
          25, 0, -10, -12, -12, -10, -5, -8, -10, -9,
          -8, -6, -4, 0, 5, 9, 10, 6, 0, -10,
          -25, -30, -25, -10, 40, 150, 310, 230, 265, 150,
          20, -35, -30, -12, -8, -5, -8, -10, -8, -5,
          5, 25, 50, 30, 0, -10, -14, -16, -17, -15,
          -17, -16, -18, -16, -17, -15, -17, -16, -18, -17,
          -16, -18, -17, -15, -17, -16, -18, -17, -16, -15,
          -17, -16, -15, -16, -14, -15]

GRIDS = {
    "A": (GRID_A, FGRID_A, (6190, 6950), XTICKS_A),
    "B": (GRID_B, FGRID_B, (6100, 7050), XTICKS_B),
    "C": (GRID_C, FGRID_C, (6140, 6990), XTICKS_C),
    "D": (GRID_D, FGRID_D, (6000, 7050), XTICKS_D),
}

PANELS = [
    dict(name="0492-51955-0273", g="A", fine=True, s=S_0492, f=F_0492, r=R_0492, cont=(6.0, 7.8),
         ydom=(4.8, 46.5), rdom=(-12, 34), rt=[-10, 0, 10, 20, 30], rm=2),
    dict(name="0581-52356-0463", g="A", s=S_0581, f=F_0581, r=R_0581, cont=(25.2, 22.9),
         ydom=(18, 95), rdom=(-6.2, 16.2), rt=[-5, 0, 5, 10, 15], rm=1),
    dict(name="0667-52163-0506", g="A", s=S_0667, f=F_0667, r=R_0667, cont=(44.2, 45.6),
         ydom=(36, 250), rdom=(-60, 260), rt=[-50, 0, 50, 100, 150, 200, 250], rm=10),
    dict(name="0784-52327-0594", g="A", s=S_0784, f=F_0784, r=R_0784, cont=(11.5, 10.8),
         ydom=(8.8, 49), rdom=(-12, 42), rt=[-10, 0, 10, 20, 30, 40], rm=2),
    dict(name="0827-52312-0023", g="B", s=S_0827, f=F_0827, r=R_0827, cont=(102.8, 93.3),
         ydom=(80.6, 321), rdom=(-77, 324), rt=[-50, 0, 50, 100, 150, 200, 250, 300], rm=10),
    dict(name="0966-52642-0499", g="A", s=S_0966, f=F_0966, r=R_0966, cont=(52.7, 51.0),
         ydom=(41, 230), rdom=(-52, 158), rt=[-50, 0, 50, 100, 150], rm=10),
    dict(name="0972-52435-0520", g="A", s=S_0972, f=F_0972, r=R_0972, cont=(31.1, 32.1),
         ydom=(26.4, 167), rdom=(-25, 125), rt=[-20, 0, 20, 40, 60, 80, 100, 120], rm=5),
    dict(name="1061-52641-0116", g="C", s=S_1061, f=F_1061, r=R_1061, cont=(89.2, 87.5),
         ydom=(72, 229), rdom=(-26, 84), rt=[-20, 0, 20, 40, 60, 80], rm=5),
    dict(name="1196-52733-0639", g="A", fine=True, s=S_1196, f=F_1196, r=R_1196, cont=(34.4, 41.5),
         ydom=(29, 184.5), rdom=(-25, 125), rt=[-20, 0, 20, 40, 60, 80, 100, 120], rm=5),
    dict(name="1229-52723-0299", g="A", fine=True, s=S_1229, f=F_1229, r=R_1229, cont=(21.4, 24.9),
         ydom=(17, 107), rdom=(-25, 63), rt=[-20, 0, 20, 40, 60], rm=5),
    dict(name="1360-53033-0206", g="A", s=S_1360, f=F_1360, r=R_1360, cont=(36.5, 32.1),
         ydom=(26.3, 148), rdom=(-23, 85), rt=[-20, 0, 20, 40, 60, 80], rm=5),
    dict(name="1618-53116-0280", g="A", fine=True, s=S_1618, f=F_1618, r=R_1618, cont=(8.0, 7.47),
         ydom=(5.9, 47), rdom=(-7, 31), rt=[-5, 0, 5, 10, 15, 20, 25, 30], rm=1),
    dict(name="2022-53827-0286", g="A", fine=True, s=S_2022, f=F_2022, r=R_2022, cont=(34.3, 42.4),
         ydom=(28.4, 160), rdom=(-28, 84), rt=[-20, 0, 20, 40, 60, 80], rm=5),
    dict(name="2108-53473-0120", g="A", s=S_2108, f=F_2108, r=R_2108, cont=(157.0, 151.0),
         ydom=(112, 1122), rdom=(-290, 840), rt=[-200, 0, 200, 400, 600, 800], rm=50),
    dict(name="2123-53793-0443", g="D", s=S_2123, f=F_2123, r=R_2123, cont=(149.7, 137.7),
         ydom=(105, 800), rdom=(-78, 378), rt=[-50, 0, 50, 100, 150, 200, 250, 300, 350], rm=10),
]

# ---------------- style ----------------
W, HM, HR = 273, 131, 44
FONT = "DejaVu Sans"
TXT = "#404040"
FRAME = "#a8a8a8"
GREEN = "#1b871b"
RED = "#ff1010"
BLUE = "#1010ff"
PURPLE = "#a3a3ee"
YTITLE = "f\u03bb (10\u207b\u00b9\u2077erg/s/cm\u00b2/\u00c5)"
MAJ, MIN = 5, 2.5

problems = []


def dash(length, test, major=MAJ, minor=MIN):
    return {"condition": {"test": test, "value": [major, length - 2 * major, major]},
            "value": [minor, length - 2 * minor, minor]}


def log_ticks(lo, hi):
    out = []
    for k in range(0, 5):
        for m in range(1, 10):
            v = m * 10 ** k
            if lo <= v <= hi:
                out.append(v)
    return out


def lin_ticks(lo, hi, step):
    out = []
    v = int(lo // step) * step
    while v <= hi:
        if v >= lo:
            out.append(v)
        v += step
    return out


def panel(p):
    grid, fgrid, xdom, xlab = GRIDS[p["g"]]
    sgrid = GRID_A5 if p.get("fine") else grid
    for key, g in (("s", sgrid), ("f", fgrid), ("r", grid)):
        if len(p[key]) != len(g):
            problems.append(f"{p['name']} {key}: {len(p[key])} vs {len(g)}")
    n = min(len(sgrid), len(p["s"]))
    spec = pd.DataFrame({"wl": sgrid[:n], "flux": p["s"][:n]})
    nf = min(len(fgrid), len(p["f"]))
    fit = pd.DataFrame({"wl": fgrid[:nf], "flux": p["f"][:nf]})
    cont = pd.DataFrame({"wl": list(xdom), "flux": list(p["cont"])})
    nr = min(len(grid), len(p["r"]))
    res = pd.DataFrame({"wl": grid[:nr], "res": p["r"][:nr]})

    xs = alt.Scale(domain=list(xdom), nice=False, zero=False)
    ys = alt.Scale(type="log", domain=list(p["ydom"]), nice=False)
    rs = alt.Scale(domain=list(p["rdom"]), nice=False, zero=False)

    xvals = lin_ticks(xdom[0], xdom[1], 40)
    xtest = "datum.value % 200 == 0"
    xlab_expr = "indexof(%s, datum.value) >= 0 ? datum.label : ''" % str(xlab)

    ax_xm = alt.Axis(values=xvals, labels=False, ticks=False, tickSize=0, domain=False,
                     title=None, grid=True, gridColor=FRAME, gridDash=dash(HM, xtest),
                     minExtent=0, maxExtent=0, labelPadding=0)
    yvals = log_ticks(*p["ydom"])
    ytest = "datum.value == 10 || datum.value == 100 || datum.value == 1000"
    ax_ym = alt.Axis(values=yvals, format="d",
                     labelExpr="(%s) ? datum.label : ''" % ytest, labelOverlap=False,
                     title=YTITLE, titleFontSize=10.5, titleFontWeight="normal",
                     grid=True, gridColor=FRAME, tickSize=0,
                     gridDash=dash(W, ytest), minExtent=20, maxExtent=20,
                     titlePadding=0, labelPadding=3)

    xm = alt.X("wl:Q", scale=xs, axis=ax_xm)
    ym = alt.Y("flux:Q", scale=ys, axis=ax_ym)

    l_spec = alt.Chart(spec).mark_line(color=GREEN, strokeWidth=1, clip=True).encode(x=xm, y=ym)
    l_fit = alt.Chart(fit).mark_line(color=RED, strokeWidth=1.5, interpolate="monotone",
                                     clip=True).encode(x=xm, y=ym)
    l_cont = alt.Chart(cont).mark_line(color=BLUE, strokeWidth=1.6, strokeDash=[2, 2],
                                       clip=True).encode(x=xm, y=ym)
    main = alt.layer(l_spec, l_fit, l_cont).properties(
        width=W, height=HM,
        title=alt.Title(p["name"], fontSize=11, font=FONT, color=TXT,
                        fontWeight="normal", offset=1))

    rvals = lin_ticks(p["rdom"][0], p["rdom"][1], p["rm"])
    rtest = "indexof(%s, datum.value) >= 0" % str(p["rt"])
    ax_xr = alt.Axis(values=xvals, format="d", labelExpr=xlab_expr, labelOverlap=False,
                     title="rest wavelength (\u00c5)", titleFontSize=9,
                     titleFontWeight="normal", tickSize=0,
                     grid=True, gridColor=FRAME, gridDash=dash(HR, xtest, 4, 2),
                     labelPadding=6, titlePadding=3)
    ax_yr = alt.Axis(values=rvals, format="d",
                     labelExpr="(%s) ? datum.label : ''" % rtest, labelOverlap=False,
                     labelFontSize=9.5,
                     title="residuals", titleFontSize=9, titleFontWeight="normal",
                     grid=True, gridColor=FRAME, tickSize=0,
                     gridDash=dash(W, rtest, 4, 2), minExtent=20, maxExtent=20,
                     titlePadding=1, labelPadding=3)
    resid = alt.Chart(res).mark_line(color=PURPLE, strokeWidth=1, clip=True).encode(
        x=alt.X("wl:Q", scale=xs, axis=ax_xr),
        y=alt.Y("res:Q", scale=rs, axis=ax_yr),
    ).properties(width=W, height=HR)

    return alt.vconcat(main, resid, spacing=0, bounds="flush").resolve_scale(
        x="independent", y="independent")


charts = [panel(p) for p in PANELS]

chart = alt.concat(*charts, columns=3, spacing={"row": 18.25, "column": 16.5}).resolve_scale(
    x="independent", y="independent"
).properties(
    padding={"left": 0, "top": 8, "right": 0, "bottom": 0}
).configure_view(
    stroke=FRAME, strokeWidth=1
).configure_axis(
    labelFont=FONT, labelFontSize=10, labelColor=TXT, titleFont=FONT, titleColor=TXT,
    titleFontWeight="normal", ticks=False, tickSize=0, domain=False, labelOverlap=False,
    labelFlush=False, gridWidth=1
).configure(background="white")

chart.save("out.html", embed_options={"renderer": "svg", "actions": False})

if problems:
    sys.stderr.write("LENGTH PROBLEMS: " + "; ".join(problems) + "\n")
    sys.exit(1)
